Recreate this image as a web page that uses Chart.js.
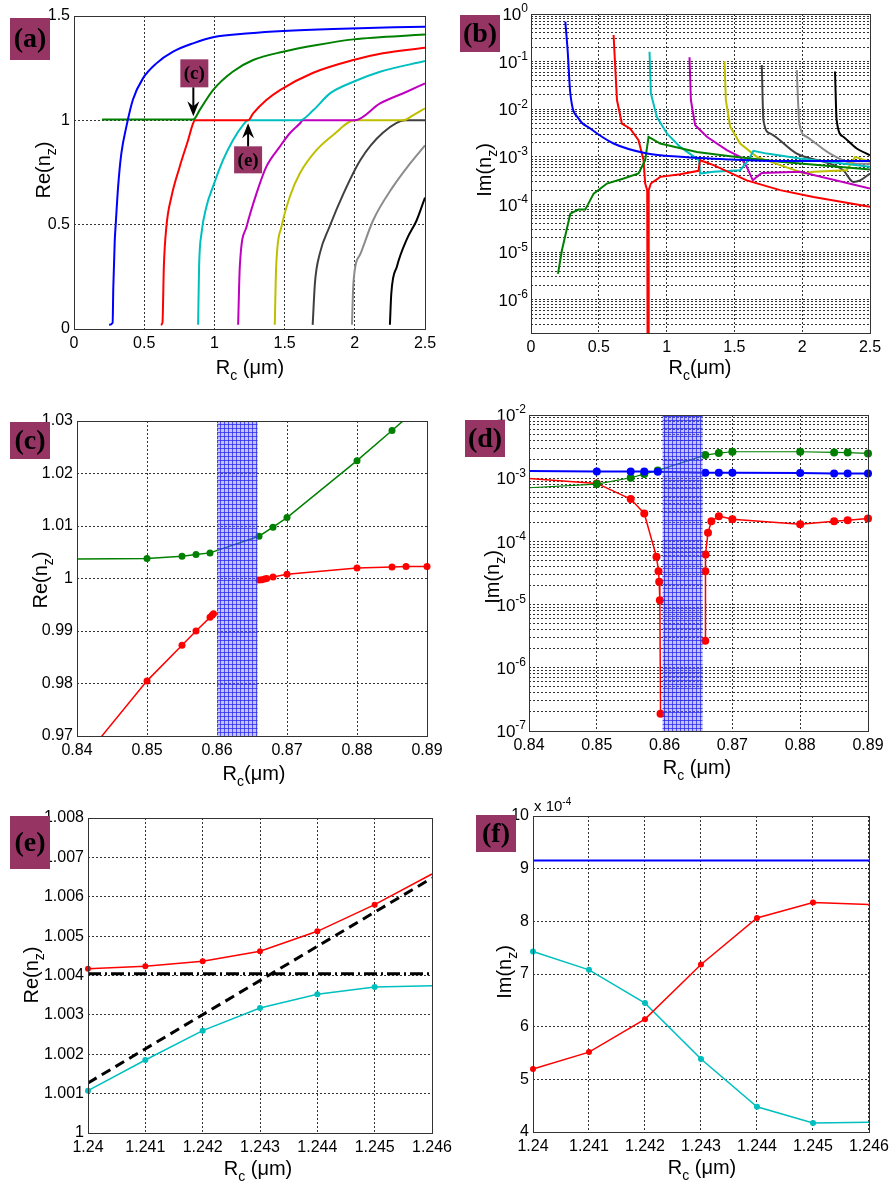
<!DOCTYPE html>
<html>
<head>
<meta charset="utf-8">
<script src="https://cdn.jsdelivr.net/npm/chart.js@4.4.1/dist/chart.umd.min.js"></script>
<style>
  body { margin: 0; background: #fff; }
  #wrap { position: relative; width: 894px; height: 1185px; }
  #wrap canvas { position: absolute; left: 0; top: 0; }
</style>
</head>
<body>
<div id="wrap">
  <canvas id="pa" width="894" height="1185"></canvas>
  <canvas id="pb" width="894" height="1185"></canvas>
  <canvas id="pc" width="894" height="1185"></canvas>
  <canvas id="pd" width="894" height="1185"></canvas>
  <canvas id="pe" width="894" height="1185"></canvas>
  <canvas id="pf" width="894" height="1185"></canvas>
</div>
<script>
// ---------- (a) Re(nz) against Rc (um) ----------
const a_blue_R = [0.25, 0.275, 0.28, 0.29, 0.297, 0.314, 0.337, 0.373, 0.42, 0.49, 0.587, 0.706, 0.848, 0.99, 1.252, 1.49, 1.846, 2.5];
const a_blue_v = [0.02, 0.03, 0.2, 0.42, 0.5, 0.68, 0.84, 0.97, 1.10, 1.20, 1.273, 1.329, 1.369, 1.398, 1.417, 1.428, 1.438, 1.449];
const a_green_R = [0.2, 0.85, 0.896, 0.99, 1.13, 1.276, 1.49, 1.73, 1.99, 2.5];
const a_green_v = [1.004, 1.004, 1.05, 1.145, 1.233, 1.289, 1.329, 1.361, 1.388, 1.411];
const a_red_R = [0.618, 0.63, 0.64, 0.658, 0.694, 0.753, 0.813, 0.848, 0.86, 1.24, 1.276, 1.37, 1.467, 1.70, 1.99, 2.2, 2.5];
const a_red_v = [0.02, 0.03, 0.3, 0.49, 0.634, 0.778, 0.906, 0.985, 1.0, 1.0, 1.033, 1.097, 1.145, 1.227, 1.289, 1.321, 1.348];
const a_cyan_R = [0.884, 0.891, 0.908, 0.943, 0.99, 1.062, 1.133, 1.205, 1.24, 1.61, 1.705, 1.823, 1.99, 2.18, 2.5];
const a_cyan_v = [0.02, 0.3, 0.458, 0.586, 0.682, 0.81, 0.906, 0.978, 1.0, 1.0, 1.049, 1.129, 1.185, 1.233, 1.284];
const a_mag_R = [1.169, 1.181, 1.229, 1.3, 1.37, 1.466, 1.537, 1.609, 1.63, 2.0, 2.18, 2.37, 2.5];
const a_mag_v = [0.02, 0.3, 0.49, 0.65, 0.778, 0.874, 0.938, 0.985, 1.0, 1.0, 1.081, 1.137, 1.177];
const a_yel_R = [1.43, 1.44, 1.478, 1.537, 1.609, 1.728, 1.846, 2.0, 2.345, 2.417, 2.5];
const a_yel_v = [0.02, 0.3, 0.49, 0.634, 0.746, 0.858, 0.93, 1.0, 1.0, 1.025, 1.057];
const a_dgray_R = [1.70, 1.716, 1.75, 1.82, 1.92, 2.04, 2.2, 2.36, 2.5];
const a_dgray_v = [0.02, 0.22, 0.36, 0.49, 0.65, 0.81, 0.94, 1.0, 1.0];
const a_gray_R = [1.98, 1.99, 2.04, 2.13, 2.27, 2.39, 2.5];
const a_gray_v = [0.02, 0.22, 0.36, 0.52, 0.68, 0.79, 0.88];
const a_black_R = [2.25, 2.26, 2.30, 2.37, 2.44, 2.5];
const a_black_v = [0.02, 0.17, 0.3, 0.43, 0.52, 0.63];
const a_xticks = [0, 0.5, 1, 1.5, 2, 2.5];
const a_yticks = [0, 0.5, 1, 1.5];
const a_markC = 0.85, a_markE = 1.24;   // where the (c) and (e) arrows point

// ---------- (b) Im(nz) against Rc (um) ----------
const b_blue_R = [0.253, 0.27, 0.29, 0.351, 0.437, 0.609, 0.855, 1.1, 1.469, 1.837, 2.5];
const b_blue_v = [0.69, 0.175, 0.0215, 0.0064, 0.00394, 0.00191, 0.00118, 0.001, 0.00088, 0.00082, 0.00082];
const b_green_R = [0.199, 0.228, 0.29, 0.351, 0.4, 0.462, 0.56, 0.683, 0.793, 0.842, 0.867, 0.953, 1.223, 1.469, 1.837, 2.5];
const b_green_v = [3.5e-6, 1.09e-5, 6.4e-5, 7.8e-5, 7.8e-5, 1.69e-4, 2.75e-4, 3.5e-4, 4.46e-4, 8.5e-4, 2.64e-3, 1.9e-3, 1.27e-3, 1.03e-3, 7.85e-4, 5.42e-4];
const b_red_R = [0.609, 0.621, 0.634, 0.67, 0.732, 0.793, 0.83, 0.842, 0.857, 0.8595, 0.866, 0.868, 0.884, 0.953, 1.1, 1.235, 1.247, 1.346, 1.591, 1.837, 2.083, 2.5];
const b_red_v = [0.361, 0.078, 0.0156, 5.0e-3, 3.9e-3, 2.24e-3, 8.5e-4, 2.75e-4, 2.0e-4, 1.5e-7, 1.5e-7, 2.0e-4, 2.75e-4, 3.8e-4, 4.3e-4, 5.1e-4, 8.5e-4, 6.7e-4, 3.2e-4, 2.0e-4, 1.44e-4, 8.9e-5];
const b_cyan_R = [0.874, 0.884, 0.928, 1.002, 1.1, 1.223, 1.24, 1.247, 1.346, 1.542, 1.603, 1.64, 1.739, 1.984, 2.5];
const b_cyan_v = [0.161, 0.0215, 6.9e-3, 3.1e-3, 1.62e-3, 9.2e-4, 8.5e-4, 4.47e-4, 4.84e-4, 5.25e-4, 8.5e-4, 1.34e-3, 1.17e-3, 9.2e-4, 6.2e-4];
const b_mag_R = [1.169, 1.179, 1.211, 1.297, 1.444, 1.542, 1.591, 1.636, 1.665, 1.702, 1.984, 2.5];
const b_mag_v = [0.123, 0.0156, 4.6e-3, 2.64e-3, 1.38e-3, 1.0e-3, 6.2e-4, 3.2e-4, 3.8e-4, 4.6e-4, 4.84e-4, 2.16e-4];
const b_yel_R = [1.427, 1.437, 1.469, 1.542, 1.665, 1.837, 1.984, 2.009, 2.083, 2.328, 2.39, 2.5];
const b_yel_v = [0.103, 0.0156, 4.3e-3, 1.9e-3, 1.0e-3, 6.7e-4, 4.84e-4, 4.47e-4, 4.84e-4, 5.25e-4, 1.0e-3, 7.85e-4];
const b_dgray_R = [1.702, 1.714, 1.763, 1.96, 2.205, 2.303, 2.377, 2.426, 2.5];
const b_dgray_v = [0.0847, 5.9e-3, 3.1e-3, 1.17e-3, 7.2e-4, 5.25e-4, 2.98e-4, 3.2e-4, 4.47e-4];
const b_gray_R = [1.96, 1.979, 2.033, 2.205, 2.402, 2.5];
const b_gray_v = [0.0664, 5.0e-3, 2.64e-3, 1.17e-3, 7.2e-4, 7.2e-4];
const b_black_R = [2.242, 2.254, 2.303, 2.402, 2.5];
const b_black_v = [0.0618, 5.9e-3, 2.64e-3, 1.5e-3, 1.08e-3];

// ---------- (c) Re(nz), zoom near Rc = 0.86 um ----------
const c_green_R = [0.84, 0.85, 0.855, 0.857, 0.859, 0.866, 0.868, 0.87, 0.88, 0.885, 0.887];
const c_green_v = [1.0037, 1.0038, 1.00425, 1.00457, 1.00488, 1.00805, 1.00977, 1.0116, 1.02245, 1.0282, 1.0305];
const c_redL_R = [0.84, 0.85, 0.855, 0.857, 0.859, 0.8593, 0.8595];
const c_redL_v = [0.9642, 0.9805, 0.9873, 0.990, 0.9926, 0.993, 0.9933];
const c_redR_R = [0.866, 0.8664, 0.8668, 0.8671, 0.868, 0.87, 0.88, 0.885, 0.887, 0.89];
const c_redR_v = [0.9997, 0.99975, 0.9999, 1.0, 1.0003, 1.0008, 1.002, 1.0022, 1.0023, 1.0023];
const c_band = [0.86, 0.8658];
const cd_xticks = [0.84, 0.85, 0.86, 0.87, 0.88, 0.89];
const c_yticks = [0.97, 0.98, 0.99, 1, 1.01, 1.02, 1.03];

// ---------- (d) Im(nz), zoom near Rc = 0.86 um ----------
const d_R = [0.84, 0.85, 0.855, 0.857, 0.859, 0.866, 0.868, 0.87, 0.88, 0.885, 0.887, 0.89];
const d_blue_v = [1.30e-3, 1.28e-3, 1.28e-3, 1.28e-3, 1.27e-3, 1.22e-3, 1.22e-3, 1.22e-3, 1.21e-3, 1.19e-3, 1.19e-3, 1.19e-3];
const d_green_v = [7.06e-4, 8.07e-4, 1.016e-3, 1.161e-3, 1.328e-3, 2.32e-3, 2.50e-3, 2.62e-3, 2.62e-3, 2.56e-3, 2.54e-3, 2.47e-3];
const d_redL_R = [0.84, 0.85, 0.855, 0.857, 0.8588, 0.8591, 0.8592, 0.8593, 0.8594];
const d_redL_v = [9.93e-4, 8.28e-4, 4.68e-4, 2.77e-4, 5.7e-5, 3.38e-5, 2.29e-5, 1.17e-5, 1.88e-7];
const d_redR_R = [0.866, 0.86601, 0.86605, 0.8664, 0.8669, 0.868, 0.87, 0.88, 0.885, 0.887, 0.89];
const d_redR_v = [2.67e-6, 3.38e-5, 6.2e-5, 1.37e-4, 2.09e-4, 2.51e-4, 2.25e-4, 1.87e-4, 2.09e-4, 2.17e-4, 2.31e-4];
const d_band = [0.8597, 0.8656];

// ---------- (e) Re(nz), zoom near Rc = 1.243 um ----------
const ef_R = [1.24, 1.241, 1.242, 1.243, 1.244, 1.245, 1.246];
const e_red_v = [1.004174, 1.004233, 1.00436, 1.004614, 1.005122, 1.0058, 1.006578];
const e_cyan_v = [1.001075, 1.001854, 1.0026, 1.003175, 1.003522, 1.003708, 1.003742];
const e_flat_R = [1.24, 1.246];
const e_flat_v = [1.004047, 1.004047];
const e_slope_R = [1.24, 1.246];
const e_slope_v = [1.00127, 1.006476];
const e_yticks = [1, 1.001, 1.002, 1.003, 1.004, 1.005, 1.006, 1.007, 1.008];

// ---------- (f) Im(nz) in units of 1e-4 ----------
const f_blue_R = [1.24, 1.246];
const f_blue_v = [9.153, 9.153];
const f_red_v = [5.195, 5.517, 6.143, 7.18, 8.065, 8.356, 8.318];
const f_cyan_v = [7.427, 7.079, 6.447, 5.385, 4.48, 4.171, 4.183];
const f_yticks = [4, 5, 6, 7, 8, 9, 10];

// ---------------------------------------------------------------
const W = 894, H = 1185, YW = 50, XH = 40;
const FONT = "'Liberation Sans', Arial, Helvetica, sans-serif";
const SERIF = "'Liberation Serif', 'Times New Roman', serif";
const MAROON = '#963463';
const COL = { blue: '#0000ff', green: '#008000', red: '#ff0000', cyan: '#00bfbf', magenta: '#bf00bf',
              yellow: '#bfbf00', dgray: '#404040', gray: '#8c8c8c', black: '#000000' };

const pts = (xs, ys) => xs.map((x, i) => ({ x, y: ys[i] }));
const fmt = v => String(parseFloat(Number(v).toFixed(6)));

function line(xs, ys, color, extra) {
  return Object.assign({
    data: pts(xs, ys), borderColor: color, backgroundColor: color,
    pointBackgroundColor: color, pointBorderColor: color, pointBorderWidth: 0,
    borderWidth: 2, pointRadius: 0, pointHoverRadius: 0, tension: 0, fill: false, clip: 0
  }, extra || {});
}

// marker radius; no marker outside the y range or on the chosen edges
function marks(r, hideLeft, hideRight) {
  return ctx => {
    const p = ctx.raw, s = ctx.chart.scales;
    if (!p || p.y > s.y.max || p.y < s.y.min) return 0;
    if (hideLeft && p.x <= s.x.min) return 0;
    if (hideRight && p.x >= s.x.max) return 0;
    return r;
  };
}

function linAxis(min, max, ticks, horiz) {
  return {
    type: 'linear', min, max,
    afterBuildTicks: s => { s.ticks = ticks.map(v => ({ value: v })); },
    afterFit: s => { if (horiz) s.height = XH; else s.width = YW; },
    grid: { color: '#333', lineWidth: 1, drawTicks: false },
    border: { display: false, dash: [2, 2] },
    ticks: { color: '#000', font: { family: FONT, size: 16 },
             padding: horiz ? 5 : 4, maxRotation: 0, autoSkip: false, callback: v => fmt(v) }
  };
}

function logAxis(min, max) {
  const tk = [];
  for (let d = Math.floor(Math.log10(min)); d <= Math.ceil(Math.log10(max)); d++) {
    for (let m = 1; m <= 9; m++) {
      const v = m * Math.pow(10, d);
      if (v >= min * 0.999 && v <= max * 1.001) tk.push(v);
    }
  }
  return {
    type: 'logarithmic', min, max,
    afterBuildTicks: s => { s.ticks = tk.map(v => ({ value: v })); },
    afterFit: s => { s.width = YW; },
    grid: { color: '#333', lineWidth: 1, drawTicks: false },
    border: { display: false, dash: [2, 2] },
    ticks: { display: false }
  };
}

// text with sub/superscripts
function rich(g, parts, x, y, size, align, rot) {
  g.save();
  g.translate(x, y);
  if (rot) g.rotate(-Math.PI / 2);
  g.fillStyle = '#000';
  g.textAlign = 'left';
  g.textBaseline = 'alphabetic';
  const small = Math.round(size * 0.68);
  let w = 0;
  for (const p of parts) { g.font = (p.sub || p.sup ? small : size) + 'px ' + FONT; w += g.measureText(p.t).width; }
  let cx = align === 'center' ? -w / 2 : align === 'right' ? -w : 0;
  const base = size * 0.36;
  for (const p of parts) {
    g.font = (p.sub || p.sup ? small : size) + 'px ' + FONT;
    const dy = p.sub ? size * 0.3 : p.sup ? -size * 0.45 : 0;
    g.fillText(p.t, cx, base + dy);
    cx += g.measureText(p.t).width;
  }
  g.restore();
}

const RE = [{ t: 'Re(n' }, { t: 'z', sub: 1 }, { t: ')' }];
const IM = [{ t: 'Im(n' }, { t: 'z', sub: 1 }, { t: ')' }];
const RC = [{ t: 'R' }, { t: 'c', sub: 1 }, { t: ' (\u03bcm)' }];
const RC2 = [{ t: 'R' }, { t: 'c', sub: 1 }, { t: '(\u03bcm)' }];

function tag(g, txt, x, y, w, h, size) {
  g.save();
  g.fillStyle = MAROON;
  g.fillRect(x, y, w, h);
  g.fillStyle = '#000';
  g.font = 'bold ' + size + 'px ' + SERIF;
  g.textAlign = 'center';
  g.textBaseline = 'middle';
  g.fillText(txt, x + w / 2, y + h / 2 + 1);
  g.restore();
}

function arrow(g, x, y1, y2) {
  const dir = Math.sign(y2 - y1);
  g.save();
  g.strokeStyle = '#000'; g.fillStyle = '#000'; g.lineWidth = 2;
  g.beginPath(); g.moveTo(x, y1); g.lineTo(x, y2 - dir * 8); g.stroke();
  g.beginPath();
  g.moveTo(x, y2); g.lineTo(x - 6, y2 - dir * 15); g.lineTo(x, y2 - dir * 10); g.lineTo(x + 6, y2 - dir * 15);
  g.closePath(); g.fill();
  g.restore();
}

function frame(c) {
  const a = c.chartArea, g = c.ctx;
  g.save();
  g.strokeStyle = '#333'; g.lineWidth = 1;
  g.strokeRect(Math.round(a.left) + 0.5, Math.round(a.top) + 0.5, Math.round(a.right - a.left), Math.round(a.bottom - a.top));
  g.restore();
}

function logLabels(c, dMin, dMax) {
  const s = c.scales.y, a = c.chartArea;
  for (let d = dMin; d <= dMax; d++) {
    rich(c.ctx, [{ t: '10' }, { t: String(d), sup: 1 }], a.left - 3, s.getPixelForValue(Math.pow(10, d)), 17, 'right');
  }
}

function band(c, x0, x1) {
  const a = c.chartArea, s = c.scales.x, g = c.ctx;
  const pc = document.createElement('canvas');
  pc.width = 4; pc.height = 4;
  const q = pc.getContext('2d');
  q.fillStyle = 'rgba(110,110,255,0.42)'; q.fillRect(0, 0, 4, 4);
  q.fillStyle = 'rgba(40,40,235,0.75)'; q.fillRect(0, 0, 4, 1); q.fillRect(0, 0, 1, 4);
  const p0 = s.getPixelForValue(x0), p1 = s.getPixelForValue(x1);
  g.save();
  g.fillStyle = g.createPattern(pc, 'repeat');
  g.fillRect(p0, a.top, p1 - p0, a.bottom - a.top);
  g.restore();
}

function panel(id, area, xs, ys, datasets, over, draw) {
  new Chart(document.getElementById(id), {
    type: 'line',
    data: { datasets },
    options: {
      responsive: false, animation: false, devicePixelRatio: 1, events: [],
      layout: { padding: { left: area.l - YW, top: area.t, right: W - area.r, bottom: H - area.b - XH } },
      scales: { x: xs, y: ys },
      plugins: { legend: { display: false }, tooltip: { enabled: false } }
    },
    plugins: [{
      id: 'decor_' + id,
      afterDatasetsDraw: c => { if (over) over(c); },
      afterDraw: c => { frame(c); draw(c); }
    }]
  });
}

const smooth = { cubicInterpolationMode: 'monotone' };

// (a)
panel('pa', { l: 74, t: 16, r: 425, b: 329 },
  linAxis(0, 2.5, a_xticks, true), linAxis(0, 1.5, a_yticks, false),
  [
    line(a_blue_R, a_blue_v, COL.blue, smooth), line(a_green_R, a_green_v, COL.green, smooth),
    line(a_red_R, a_red_v, COL.red, smooth), line(a_cyan_R, a_cyan_v, COL.cyan, smooth),
    line(a_mag_R, a_mag_v, COL.magenta, smooth), line(a_yel_R, a_yel_v, COL.yellow, smooth),
    line(a_dgray_R, a_dgray_v, COL.dgray, smooth), line(a_gray_R, a_gray_v, COL.gray, smooth),
    line(a_black_R, a_black_v, COL.black, smooth)
  ], null,
  c => {
    const g = c.ctx;
    rich(g, RE, 43, 170, 20, 'center', true);
    rich(g, RC, 250, 367, 20, 'center');
    tag(g, '(a)', 10, 18, 40, 42, 28);
    const y1 = c.scales.y.getPixelForValue(1);
    const xc = c.scales.x.getPixelForValue(a_markC), xe = c.scales.x.getPixelForValue(a_markE);
    tag(g, '(c)', xc - 13, y1 - 61, 28, 28, 19);
    arrow(g, xc, y1 - 33, y1 - 4);
    tag(g, '(e)', xe - 14, y1 + 26, 28, 27, 19);
    arrow(g, xe, y1 + 26, y1 + 3);
  });

// (b)
panel('pb', { l: 531, t: 14, r: 870, b: 333 },
  linAxis(0, 2.5, a_xticks, true), logAxis(2e-7, 1),
  [
    line(b_blue_R, b_blue_v, COL.blue, smooth), line(b_green_R, b_green_v, COL.green),
    line(b_red_R, b_red_v, COL.red), line(b_cyan_R, b_cyan_v, COL.cyan),
    line(b_mag_R, b_mag_v, COL.magenta), line(b_yel_R, b_yel_v, COL.yellow),
    line(b_dgray_R, b_dgray_v, COL.dgray, smooth), line(b_gray_R, b_gray_v, COL.gray, smooth),
    line(b_black_R, b_black_v, COL.black, smooth)
  ], null,
  c => {
    const g = c.ctx;
    logLabels(c, -6, 0);
    rich(g, IM, 484, 170, 20, 'center', true);
    rich(g, RC2, 700, 367, 20, 'center');
    tag(g, '(b)', 460, 15, 40, 37, 28);
  });

const cdClip = { left: 0, top: 0, right: 8, bottom: 0 };

// (c)
panel('pc', { l: 77, t: 421, r: 427, b: 736 },
  linAxis(0.84, 0.89, cd_xticks, true), linAxis(0.97, 1.03, c_yticks, false),
  [
    line(c_green_R, c_green_v, COL.green, { borderWidth: 1.5, pointRadius: marks(3.5, true), clip: cdClip }),
    line(c_redL_R, c_redL_v, COL.red, { borderWidth: 1.5, pointRadius: marks(3.5, true), clip: cdClip }),
    line(c_redR_R, c_redR_v, COL.red, { borderWidth: 1.5, pointRadius: marks(3.5, true), clip: cdClip })
  ],
  c => band(c, c_band[0], c_band[1]),
  c => {
    const g = c.ctx;
    rich(g, RE, 40, 580, 20, 'center', true);
    rich(g, RC2, 254, 773, 20, 'center');
    tag(g, '(c)', 10, 422, 40, 37, 28);
  });

// (d)
panel('pd', { l: 529, t: 415, r: 868, b: 731 },
  linAxis(0.84, 0.89, cd_xticks, true), logAxis(1e-7, 1e-2),
  [
    line(d_R, d_blue_v, COL.blue, { borderWidth: 2, pointRadius: marks(4, true), clip: cdClip }),
    line(d_R, d_green_v, COL.green, { borderWidth: 1.2, pointRadius: marks(4, true), clip: cdClip }),
    line(d_redL_R, d_redL_v, COL.red, { borderWidth: 1.5, pointRadius: marks(4, true), clip: cdClip }),
    line(d_redR_R, d_redR_v, COL.red, { borderWidth: 1.5, pointRadius: marks(4, true), clip: cdClip })
  ],
  c => band(c, d_band[0], d_band[1]),
  c => {
    const g = c.ctx;
    logLabels(c, -7, -2);
    rich(g, IM, 492, 577, 20, 'center', true);
    rich(g, RC, 697, 767, 20, 'center');
    tag(g, '(d)', 465, 420, 40, 37, 28);
  });

// (e)
panel('pe', { l: 88, t: 818, r: 432, b: 1133 },
  linAxis(1.24, 1.246, ef_R, true), linAxis(1, 1.008, e_yticks, false),
  [
    line(e_flat_R, e_flat_v, COL.black, { borderWidth: 3, borderDash: [13, 4, 2, 4] }),
    line(e_slope_R, e_slope_v, COL.black, { borderWidth: 3, borderDash: [10, 6] }),
    line(ef_R, e_red_v, COL.red, { borderWidth: 1.5, pointRadius: marks(3, false, true), clip: 5 }),
    line(ef_R, e_cyan_v, COL.cyan, { borderWidth: 1.5, pointRadius: marks(3, false, true), clip: 5 })
  ], null,
  c => {
    const g = c.ctx;
    rich(g, RE, 31, 975, 20, 'center', true);
    rich(g, RC, 258, 1168, 20, 'center');
    tag(g, '(e)', 10, 816, 40, 53, 28);
  });

// (f)
panel('pf', { l: 533, t: 816, r: 871, b: 1132 },
  linAxis(1.24, 1.246, ef_R, true), linAxis(4, 10, f_yticks, false),
  [
    line(f_blue_R, f_blue_v, COL.blue, { borderWidth: 2 }),
    line(ef_R, f_red_v, COL.red, { borderWidth: 1.5, pointRadius: marks(3, false, true), clip: 5 }),
    line(ef_R, f_cyan_v, COL.cyan, { borderWidth: 1.5, pointRadius: marks(3, false, true), clip: 5 })
  ], null,
  c => {
    const g = c.ctx;
    rich(g, [{ t: 'x 10' }, { t: '-4', sup: 1 }], 534, 806, 15, 'left');
    rich(g, IM, 504, 972, 20, 'center', true);
    rich(g, RC, 702, 1167, 20, 'center');
    tag(g, '(f)', 476, 815, 40, 37, 28);
  });
</script>
</body>
</html>
